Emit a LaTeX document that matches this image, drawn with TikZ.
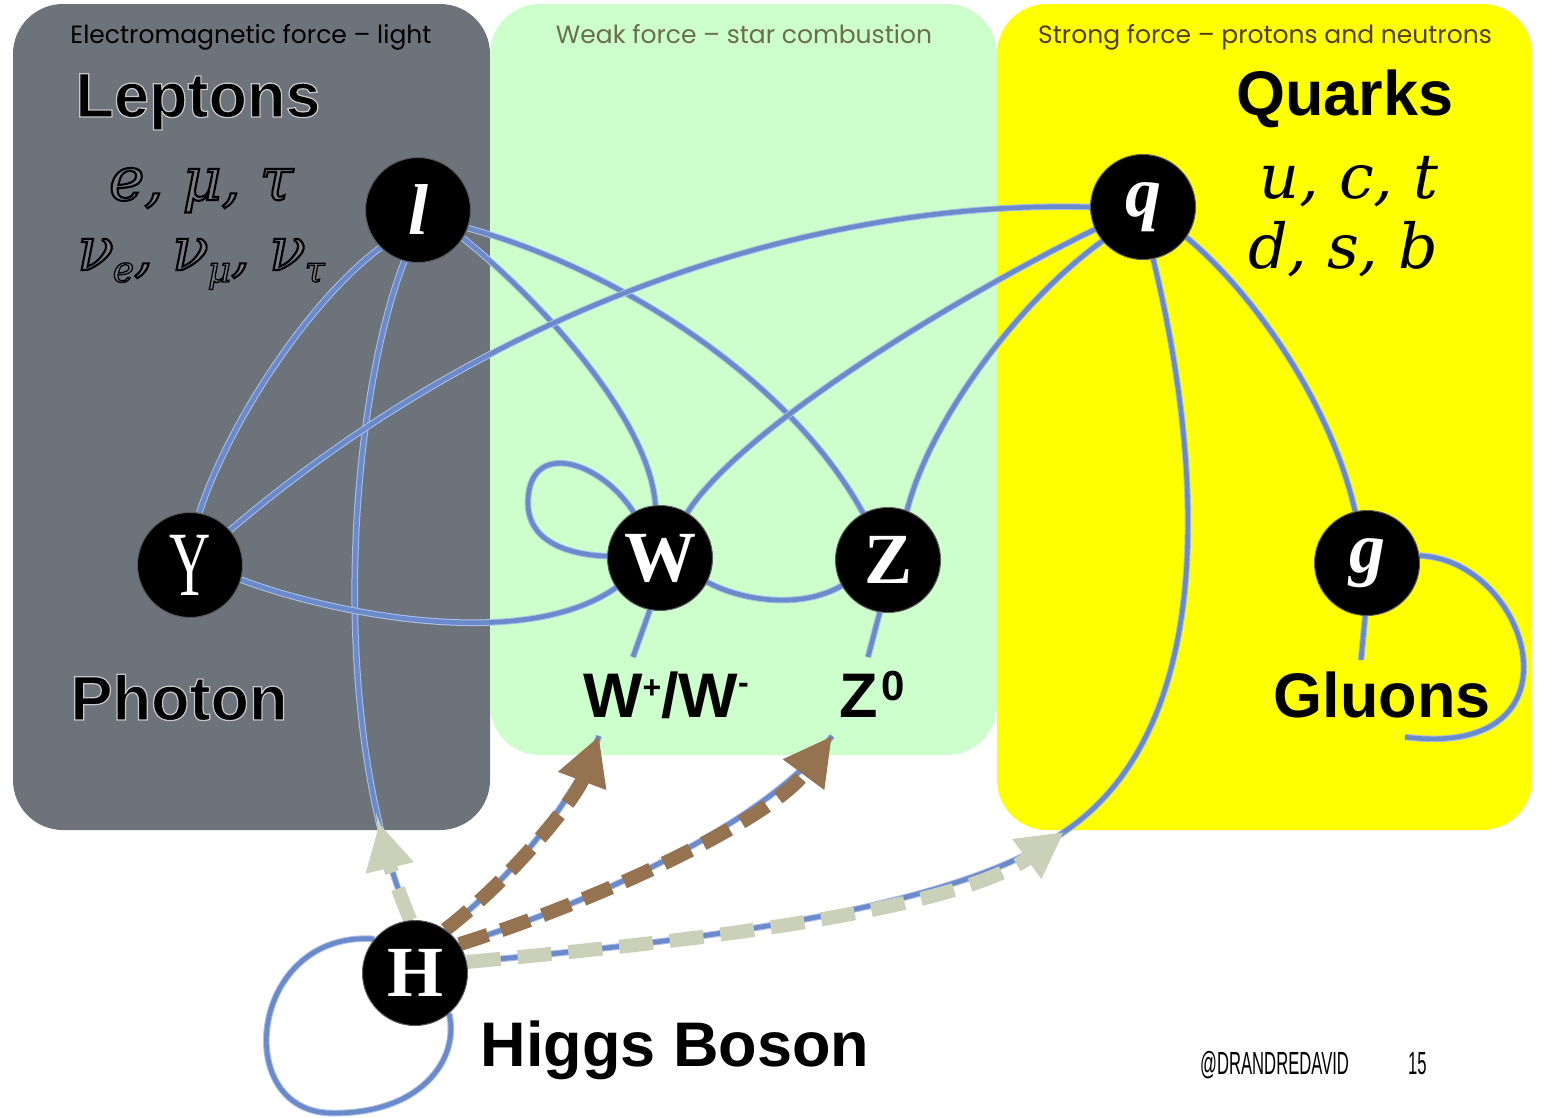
\documentclass[tikz,border=0pt]{standalone}
\usepackage{fontspec}
\usepackage{graphicx}
\usetikzlibrary{arrows.meta}
\setmainfont{Liberation Serif}
\newfontfamily\titlefont{Poppins}
\newfontfamily\labfont{Liberation Sans}
\newfontfamily\labhalofont{Liberation Sans}[BoldFeatures={FakeBold=2}]
\newfontfamily\symfont{DejaVu Serif}
\newfontfamily\symoutline{DejaVu Serif}[ItalicFeatures={FakeBold=3.5}]
\newfontfamily\condfont[FakeStretch=0.52]{Liberation Sans}

\definecolor{emgray}{RGB}{108,115,122}
\definecolor{weakgreen}{RGB}{204,255,204}
\definecolor{strongyellow}{RGB}{255,255,0}
\definecolor{weakcol}{RGB}{107,110,78}
\definecolor{strongcol}{RGB}{80,62,25}
\definecolor{linkblue}{RGB}{106,138,204}
\definecolor{linkhalo}{RGB}{172,192,232}
\definecolor{arrbrown}{RGB}{150,115,80}
\definecolor{arrbeige}{RGB}{203,208,185}
\definecolor{ballrim}{RGB}{90,90,90}

\pgfdeclarelayer{bg}
\pgfdeclarelayer{edges}
\pgfsetlayers{bg,edges,main}

% letters with a separate fill colour and outline colour
\newcommand\outlined[1]{\special{pdf:bcolor [0.47 0.49 0.52] [0]}#1\special{pdf:ecolor}}
\newcommand\haloed[1]{\special{pdf:bcolor [0] [0.78]}#1\special{pdf:ecolor}}
\newcommand\sbs[1]{\kern-1pt\raisebox{-12pt}{\fontsize{36}{36}\selectfont #1}}

\tikzset{
  ball/.style={circle, fill=black, draw=ballrim, line width=1pt, minimum size=105pt,
    inner sep=0pt, text=white, font=\fontsize{72}{72}\selectfont\bfseries},
  link/.style={draw=linkblue, line width=4.6pt, preaction={draw=linkhalo, line width=6.6pt}},
  brownarrow/.style={draw=arrbrown, line width=14pt, dash pattern=on 30pt off 14pt,
    -{Triangle[length=48pt,width=48pt]}},
  beigearrow/.style={draw=arrbeige, line width=14pt, dash pattern=on 34pt off 17pt,
    -{Triangle[length=46pt,width=46pt]}},
  titletext/.style={anchor=base, inner sep=0pt, font=\titlefont\fontsize{25}{25}\selectfont},
  biglab/.style={anchor=base, inner sep=0pt, font=\labfont\bfseries\fontsize{63}{63}\selectfont},
  symtext/.style={anchor=base, inner sep=0pt, font=\symfont\itshape\fontsize{62}{62}\selectfont},
}

\begin{document}
\begin{tikzpicture}[x=1pt,y=-1pt]
\useasboundingbox (0,0) rectangle (1544,1117);
\begin{pgfonlayer}{bg}
  \fill[white] (0,0) rectangle (1544,1117);
  \fill[emgray, rounded corners=50pt] (13,4) rectangle (490,830);
  \fill[weakgreen, rounded corners=50pt] (490,4) rectangle (997,755);
  \fill[strongyellow, rounded corners=50pt] (997,4) rectangle (1532,830);
\end{pgfonlayer}

% titles
\node[titletext, text=black] (tEM) at (251,43) {Electromagnetic force – light};
\node[titletext, text=weakcol] (tWeak) at (744,43) {Weak force – star combustion};
\node[titletext, text=strongcol] (tStrong) at (1265,43) {Strong force – protons and neutrons};

% big labels
\node[biglab, font=\labhalofont\bfseries\fontsize{63}{63}\selectfont] (leptons) at (198,117) {\haloed{Leptons}};
\node[biglab] (quarks) at (1345,115) {Quarks};
\node[biglab, font=\labhalofont\bfseries\fontsize{63}{63}\selectfont] (photon) at (179,720) {\haloed{Photon}};
\node[biglab] (gluons) at (1382,717) {Gluons};
\node[biglab] (higgs) at (675,1066) {Higgs Boson};
\node[biglab] (wlab) at (666,717) {W\raisebox{19pt}{\fontsize{32}{32}\selectfont +}/W\raisebox{24pt}{\fontsize{32}{32}\selectfont -}};
\node[biglab, anchor=base west] (zlab) at (839,717) {Z\kern4pt\raisebox{17pt}{\fontsize{42}{42}\selectfont 0}};

% particle symbols
\node[symtext, font=\symoutline\itshape\fontsize{60}{60}\selectfont] (lepA) at (201,200) {\outlined{e, μ, τ}};
\node[symtext, font=\symoutline\itshape\fontsize{60}{60}\selectfont] (lepB) at (201,270)
  {\outlined{ν\sbs{e}, ν\sbs{μ}, ν\sbs{τ}}};
\node[symtext] (quA) at (1349,198) {u, c, t};
\node[symtext] (quB) at (1343,268) {d, s, b};

% footer
\node[anchor=base west, inner sep=0pt, font=\condfont\fontsize{32}{32}\selectfont] (handle) at (1200,1074) {@DRANDREDAVID};
\node[anchor=base west, inner sep=0pt, font=\condfont\fontsize{32}{32}\selectfont] (pagenum) at (1408,1074) {15};

% particle nodes
\node[ball] (l) at (418,210) {\itshape l};
\node[ball] (gam) at (190,565) {\mdseries\fontsize{92}{92}\selectfont\scalebox{0.62}[1]{Y}};
\node[ball] (W) at (660,558) {W};
\node[ball] (Z) at (888,560) {Z};
\node[ball] (q) at (1143,207) {\itshape q};
\node[ball] (g) at (1367,563) {\itshape g};
\node[ball] (H) at (415,973) {H};

% free ends
\coordinate (wstub) at (633,657);
\coordinate (zstub) at (868,657);
\coordinate (gstub) at (1361,660);
\coordinate (gloopend) at (1405,737);
\coordinate (wtip) at (599,736);
\coordinate (ztip) at (832,736);
\coordinate (qtip) at (1064,832);
\coordinate (htip) at (379.2,823.1);

\begin{pgfonlayer}{edges}
  \draw[link] (gam.80) .. controls (230,420) and (310,300) .. (l.225);
  \draw[link] (l.255) .. controls (350,400) and (325,720) .. (H.95);
  \draw[link] (l.-32) .. controls (540,300) and (650,420) .. (W.95);
  \draw[link] (l.-20) .. controls (620,270) and (790,380) .. (Z.118);
  \draw[link] (q.180) .. controls (820,200) and (500,300) .. (gam.41);
  \draw[link] (q.205) .. controls (950,300) and (740,430) .. (W.59);
  \draw[link] (q.220) .. controls (1020,300) and (930,420) .. (Z.69);
  \draw[link] (q.-35) .. controls (1250,290) and (1330,400) .. (g.103);
  \draw[link] (q.-79) .. controls (1195,430) and (1230,720) .. (qtip);
  \draw[link] (H.12) .. controls (650,945) and (950,915) .. (qtip);
  \draw[link] (gam.-16) .. controls (320,610) and (520,655) .. (W.214);
  \draw[link] (W.-27) .. controls (740,600) and (800,610) .. (Z.209);
  \draw[link] (W.120) .. controls (600,460) and (530,440) .. (528,500)
                      .. controls (526,545) and (575,555) .. (W.178);
  \draw[link] (W.-101) -- (wstub);
  \draw[link] (Z.-99) -- (zstub);
  \draw[link] (g.-92) -- (gstub);
  \draw[link] (g.8) .. controls (1530,560) and (1590,760) .. (gloopend);
  \draw[link] (H.140) .. controls (250,930) and (230,1110) .. (330,1113)
                      .. controls (420,1115) and (460,1060) .. (H.-50);
  \draw[link] (H.55) .. controls (510,880) and (575,800) .. (wtip);
  \draw[link] (H.33) .. controls (600,900) and (770,820) .. (ztip);
  % dashed arrows over the links
  \draw[brownarrow] (H.55) .. controls (510,880) and (575,800) .. (wtip);
  \draw[brownarrow] (H.33) .. controls (600,900) and (770,820) .. (ztip);
  \draw[beigearrow] (H.12) .. controls (650,945) and (950,915) .. (qtip);
  \draw[beigearrow] (H.95) .. controls (397.6,890.2) and (387.3,857.5) .. (htip);
\end{pgfonlayer}
\end{tikzpicture}
\end{document}
